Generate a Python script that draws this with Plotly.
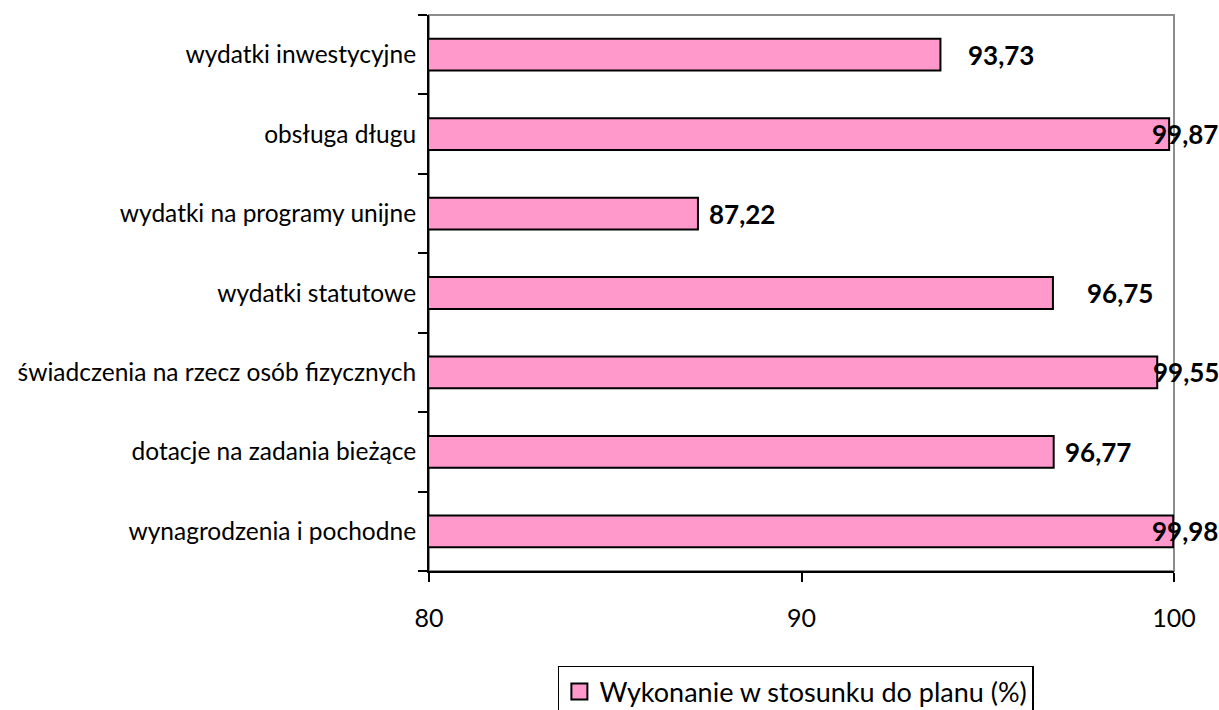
import plotly.graph_objects as go

# bottom-to-top order, as drawn on the chart
categories = [
    "wynagrodzenia i pochodne",
    "dotacje na zadania bieżące",
    "świadczenia na rzecz osób fizycznych",
    "wydatki statutowe",
    "wydatki na programy unijne",
    "obsługa długu",
    "wydatki inwestycyjne",
]
values = [99.98, 96.77, 99.55, 96.75, 87.22, 99.87, 93.73]
value_labels = ["99,98", "96,77", "99,55", "96,75", "87,22", "99,87", "93,73"]
# label offsets (px) from bar end, mimicking the original placement
label_shift = [-23, 9, -6, 32, 9, -19, 26]
series_name = "Wykonanie w stosunku do planu (%)"

FONT = "Lato, 'DejaVu Sans', sans-serif"
PINK = "#FF99CC"

fig = go.Figure()
fig.add_trace(go.Bar(
    y=categories,
    x=values,
    base=0,
    orientation="h",
    name=series_name,
    marker=dict(color=PINK, line=dict(color="black", width=2)),
    width=0.4,
    hoverinfo="x+y",
    showlegend=False,
))
# legend-only entry so the swatch can be a bigger square like the original
fig.add_trace(go.Scatter(
    x=[None], y=[None], mode="markers", name=series_name,
    marker=dict(symbol="square", size=16, color=PINK,
                line=dict(color="black", width=2)),
    hoverinfo="skip",
))

for cat, val, txt, dx in zip(categories, values, value_labels, label_shift):
    fig.add_annotation(
        x=val, y=cat, text=f"<b>{txt}</b>", showarrow=False,
        xanchor="left", yanchor="middle", xshift=dx,
        font=dict(family=FONT, size=26, color="black"),
    )

# gray plot-area border (top and right sides visible)
fig.add_shape(type="rect", xref="paper", yref="paper", x0=0, x1=1, y0=0, y1=1,
              line=dict(color="#8C8C8C", width=2), layer="below")

fig.update_layout(
    width=1219, height=710,
    margin=dict(l=429, r=45, t=15, b=139, autoexpand=False),
    paper_bgcolor="white", plot_bgcolor="white",
    font=dict(family=FONT, size=24, color="black"),
    showlegend=True,
    legend=dict(
        x=0.173, y=0.062, xanchor="left", yanchor="top", yref="container",
        bordercolor="black", borderwidth=1.5,
        font=dict(family=FONT, size=27, color="black"),
        itemsizing="trace", itemwidth=30,
    ),
    bargap=0.6,
)
fig.update_xaxes(
    range=[80, 100], tickvals=[80, 90, 100], ticktext=["80", "90", "100"],
    showgrid=False, zeroline=False, automargin=False,
    showline=True, linecolor="black", linewidth=2,
    ticks="outside", ticklen=9, tickwidth=2, tickcolor="black",
    tickfont=dict(family=FONT, size=25), ticklabelstandoff=15,
)
fig.update_yaxes(
    type="category", categoryorder="array", categoryarray=categories,
    showgrid=False, zeroline=False, automargin=False,
    showline=True, linecolor="black", linewidth=2,
    ticks="outside", ticklen=9, tickwidth=2, tickcolor="black",
    tickson="boundaries", ticklabelstandoff=6,
    tickfont=dict(family=FONT, size=24.5),
)

# drop the default 8px body margin so the figure fills the window exactly
fig.write_html("out.html", config={"displayModeBar": False},
               post_script="document.body.style.margin='0';")
